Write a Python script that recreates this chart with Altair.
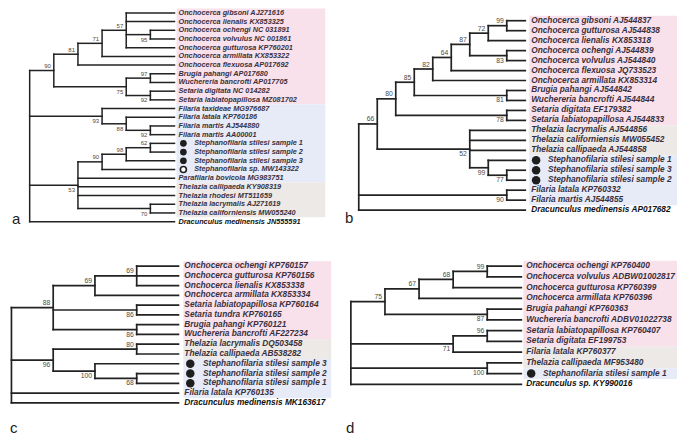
import re
import altair as alt
import pandas as pd

# ---------------- data ----------------
# tips listed top to bottom; trees use tip indices, internal labels = bootstrap support
a_leaves = [
    "Onchocerca gibsoni AJ271616", "Onchocerca lienalis KX853325", "Onchocerca ochengi NC 031891",
    "Onchocerca volvulus NC 001861", "Onchocerca gutturosa KP760201", "Onchocerca armillata KX853322",
    "Onchocerca flexuosa AP017692", "Brugia pahangi AP017680", "Wuchereria bancrofti AP017705",
    "Setaria digitata NC 014282", "Setaria labiatopapillosa MZ081702", "Filaria taxideae MG976687",
    "Filaria latala KP760186", "Filaria martis AJ544880", "Filaria martis AA00001",
    "Stephanofilaria stilesi sample 1", "Stephanofilaria stilesi sample 2", "Stephanofilaria stilesi sample 3",
    "Stephanofilaria sp. MW143322", "Parafilaria bovicola MG983751", "Thelazia callipaeda KY908319",
    "Thelazia rhodesi MT511659", "Thelazia lacrymalis AJ271619", "Thelazia californiensis MW055240",
    "Dracunculus medinensis JN555591",
]
a_tree = "(((((0,1,(2,3)95,4)57,5)71,6)81,((7,8)97,(9,10)92)75)90,(11,(12,(13,14)92)88)93,((((15,16)62,17)98,18)90,19,20,21,(22,23)70)53,24);"
a_filled = [15, 16, 17]
a_open = [18]
a_groups = [("G1", 11), ("G2", 9), ("G3", 4)]

b_leaves = [
    "Onchocerca gibsoni AJ544837", "Onchocerca gutturosa AJ544838", "Onchocerca lienalis KX853318",
    "Onchocerca ochengi AJ544839", "Onchocerca volvulus AJ544840", "Onchocerca flexuosa JQ733523",
    "Onchocerca armillata KX853314", "Brugia pahangi AJ544842", "Wuchereria bancrofti AJ544844",
    "Setaria digitata EF179382", "Setaria labiatopapillosa AJ544833", "Thelazia lacrymalis AJ544856",
    "Thelazia californiensis MW055452", "Thelazia callipaeda AJ544858", "Stephanofilaria stilesi sample 1",
    "Stephanofilaria stilesi sample 3", "Stephanofilaria stilesi sample 2", "Filaria latala KP760332",
    "Filaria martis AJ544855", "Dracunculus medinensis AP017682",
]
b_tree = "(((((((((0,1)99,2)72,(3,4)83)87,5)64,6)82,(7,8)81)85,(9,10)78)80,(11,12,13,(14,(15,16)77)99)52)66,(17,18)90,19);"
b_filled = [14, 15, 16]
b_open = []
b_groups = [("G1", 11), ("G3", 3), ("G2", 5)]

c_leaves = [
    "Onchocerca ochengi KP760157", "Onchocerca gutturosa KP760156", "Onchocerca lienalis KX853338",
    "Onchocerca armillata KX853334", "Setaria labiatopapillosa KP760164", "Setaria tundra KP760165",
    "Brugia pahangi KP760121", "Wuchereria bancrofti AF227234", "Thelazia lacrymalis DQ503458",
    "Thelazia callipaeda AB538282", "Stephanofilaria stilesi sample 3", "Stephanofilaria stilesi sample 2",
    "Stephanofilaria stilesi sample 1", "Filaria latala KP760135", "Dracunculus medinensis MK163617",
]
c_tree = "((((0,1,2)69,3)69,(4,5)86,(6,7)86)88,((8,9)80,(10,(11,12)68)100)96,13,14);"
c_filled = [10, 11, 12]
c_open = []
c_groups = [("G1", 8), ("G3", 2), ("G2", 4)]

d_leaves = [
    "Onchocerca ochengi KP760400", "Onchocerca volvulus ADBW01002817", "Onchocerca gutturosa KP760399",
    "Onchocerca armillata KP760396", "Brugia pahangi KP760363", "Wuchereria bancrofti ADBV01022738",
    "Setaria labiatopapillosa KP760407", "Setaria digitata EF199753", "Filaria latala KP760377",
    "Thelazia callipaeda MF953480", "Stephanofilaria stilesi sample 1", "Dracunculus sp. KY990016",
]
d_tree = "(((((0,1)99,2)68,3)67,(4,5)87)75,((6,7)96,8)71,(9,10)100,11);"
d_filled = [10]
d_open = []
d_groups = [("G1", 8), ("G3", 2), ("G2", 1)]

panel_letters = ["a", "b", "c", "d"]

# ---------------- layout / style ----------------
GROUP_COLORS = {"G1": "#f9e1ec", "G2": "#e6ebf7", "G3": "#ece9e7"}
LINE = "#222222"
TXT = "#3a3140"
OUT_TXT = "#111111"
BOOT = "#4a4a4a"

PANELS = [
    dict(leaves=a_leaves, tree=a_tree, filled=a_filled, opn=a_open, groups=a_groups,
         root_x=26, leaf_x=173, y0=6, dy=8.9, box_l=175, box_r=326, fs=7.3, bfs=6, lw=1.5,
         lab_dx=4, circ_dx=9, circ_tx=20, circ_size=45, letter=(8, 217)),
    dict(leaves=b_leaves, tree=b_tree, filled=b_filled, opn=b_open, groups=b_groups,
         root_x=360, leaf_x=529, y0=14, dy=10.2, box_l=533, box_r=690, fs=8.3, bfs=6.8, lw=1.7,
         lab_dx=6, circ_dx=11, circ_tx=23, circ_size=72, letter=(346, 216)),
    dict(leaves=c_leaves, tree=c_tree, filled=c_filled, opn=c_open, groups=c_groups,
         root_x=7.5, leaf_x=177, y0=265, dy=10, box_l=182, box_r=332, fs=8.3, bfs=6.8, lw=1.7,
         lab_dx=6, circ_dx=12, circ_tx=25, circ_size=72, letter=(6, 431)),
    dict(leaves=d_leaves, tree=d_tree, filled=d_filled, opn=d_open, groups=d_groups,
         root_x=352, leaf_x=525, y0=265, dy=11, box_l=527, box_r=690, fs=8.3, bfs=6.8, lw=1.7,
         lab_dx=5, circ_dx=10, circ_tx=22, circ_size=72, letter=(347, 431)),
]


def parse_newick(s):
    s = s.strip().rstrip(";")
    pos = [0]

    def node():
        i = pos[0]
        if s[i] == "(":
            pos[0] += 1
            kids = [node()]
            while s[pos[0]] == ",":
                pos[0] += 1
                kids.append(node())
            pos[0] += 1
            m = re.match(r"\d*", s[pos[0]:])
            pos[0] += m.end()
            return {"kids": kids, "support": m.group(0)}
        m = re.match(r"\d+", s[i:])
        pos[0] += m.end()
        return {"tip": int(m.group(0))}

    return node()


def set_height(n):
    if "tip" in n:
        n["h"] = 0
    else:
        n["h"] = 1 + max(set_height(k) for k in n["kids"])
    return n["h"]


def place(n, P, H):
    step = (P["leaf_x"] - P["root_x"]) / H
    if "tip" in n:
        n["x"] = P["leaf_x"]
        n["y"] = P["y0"] + n["tip"] * P["dy"]
    else:
        for k in n["kids"]:
            place(k, P, H)
        n["x"] = P["root_x"] + (H - n["h"]) * step
        n["y"] = (n["kids"][0]["y"] + n["kids"][-1]["y"]) / 2


def collect(n, P, segs, boots, first=True, parent=None):
    if parent is not None:
        segs.append(dict(x=parent["x"], x2=n["x"], y=n["y"], y2=n["y"], w=P["lw"]))
    if "kids" in n:
        segs.append(dict(x=n["x"], x2=n["x"], y=n["kids"][0]["y"], y2=n["kids"][-1]["y"], w=P["lw"]))
        if parent is not None and n["support"]:
            boots.append(dict(x=n["x"] - 3, y=n["y"] + (-1.5 if first else 2.0),
                              t=n["support"], pos="up" if first else "dn", fs=P["bfs"]))
        for j, k in enumerate(n["kids"]):
            collect(k, P, segs, boots, j == 0, n)


segs, boots, rects, labels, dots, rings, letters = [], [], [], [], [], [], []
for P, letter in zip(PANELS, panel_letters):
    root = parse_newick(P["tree"])
    H = set_height(root)
    place(root, P, H)
    collect(root, P, segs, boots)
    start = 0
    for g, cnt in P["groups"]:
        rects.append(dict(x=P["box_l"], x2=P["box_r"],
                          y=P["y0"] + (start - 0.5) * P["dy"],
                          y2=P["y0"] + (start + cnt - 0.5) * P["dy"],
                          c=GROUP_COLORS[g]))
        start += cnt
    n_tips = len(P["leaves"])
    for i, name in enumerate(P["leaves"]):
        y = P["y0"] + i * P["dy"]
        marked = i in P["filled"] or i in P["opn"]
        tx = P["leaf_x"] + (P["circ_tx"] if marked else P["lab_dx"])
        col = OUT_TXT if i == n_tips - 1 else TXT
        labels.append(dict(x=tx, y=y, t=name, c=col, fs=P["fs"]))
        if i in P["filled"]:
            dots.append(dict(x=P["leaf_x"] + P["circ_dx"], y=y, s=P["circ_size"]))
        if i in P["opn"]:
            rings.append(dict(x=P["leaf_x"] + P["circ_dx"], y=y, s=P["circ_size"] * 0.8))
    letters.append(dict(x=P["letter"][0], y=P["letter"][1], t=letter))

xs = alt.Scale(domain=[4, 683], nice=False, zero=False)
ys = alt.Scale(domain=[1, 443], nice=False, zero=False, reverse=True)
X = alt.X("x:Q", scale=xs, axis=None)
Y = alt.Y("y:Q", scale=ys, axis=None)

rect_layer = alt.Chart(pd.DataFrame(rects)).mark_rect().encode(
    x=X, x2="x2:Q", y=Y, y2="y2:Q", color=alt.Color("c:N", scale=None))

rule_layer = alt.Chart(pd.DataFrame(segs)).mark_rule(color=LINE, strokeCap="square").encode(
    x=X, x2="x2:Q", y=Y, y2="y2:Q", strokeWidth=alt.StrokeWidth("w:Q", scale=None))

dot_layer = alt.Chart(pd.DataFrame(dots)).mark_point(
    shape="circle", filled=True, color="#1e1e1e", opacity=1).encode(
    x=X, y=Y, size=alt.Size("s:Q", scale=None))

ring_layer = alt.Chart(pd.DataFrame(rings)).mark_point(
    shape="circle", filled=True, fill="white", stroke="#1e1e1e", strokeWidth=1.6, opacity=1).encode(
    x=X, y=Y, size=alt.Size("s:Q", scale=None))

label_layer = alt.Chart(pd.DataFrame(labels)).mark_text(
    align="left", baseline="middle", font="Liberation Sans", fontStyle="italic", fontWeight="bold").encode(
    x=X, y=Y, text="t:N", color=alt.Color("c:N", scale=None), size=alt.Size("fs:Q", scale=None))

bdf = pd.DataFrame(boots)
boot_up = alt.Chart(bdf[bdf.pos == "up"]).mark_text(
    align="right", baseline="bottom", font="Liberation Sans").encode(
    x=X, y=Y, text="t:N", size=alt.Size("fs:Q", scale=None), color=alt.value(BOOT))
boot_dn = alt.Chart(bdf[bdf.pos == "dn"]).mark_text(
    align="right", baseline="top", font="Liberation Sans").encode(
    x=X, y=Y, text="t:N", size=alt.Size("fs:Q", scale=None), color=alt.value(BOOT))

letter_layer = alt.Chart(pd.DataFrame(letters)).mark_text(
    align="left", baseline="middle", font="Liberation Sans", fontSize=15).encode(
    x=X, y=Y, text="t:N", color=alt.value("#222222"))

chart = alt.layer(rect_layer, rule_layer, dot_layer, ring_layer, label_layer,
                  boot_up, boot_dn, letter_layer).properties(
    width=669, height=432, padding=0,
    autosize=alt.AutoSizeParams(type="none")).configure_view(stroke=None)

chart.save("out.html", embed_options={"renderer": "svg", "actions": False})
